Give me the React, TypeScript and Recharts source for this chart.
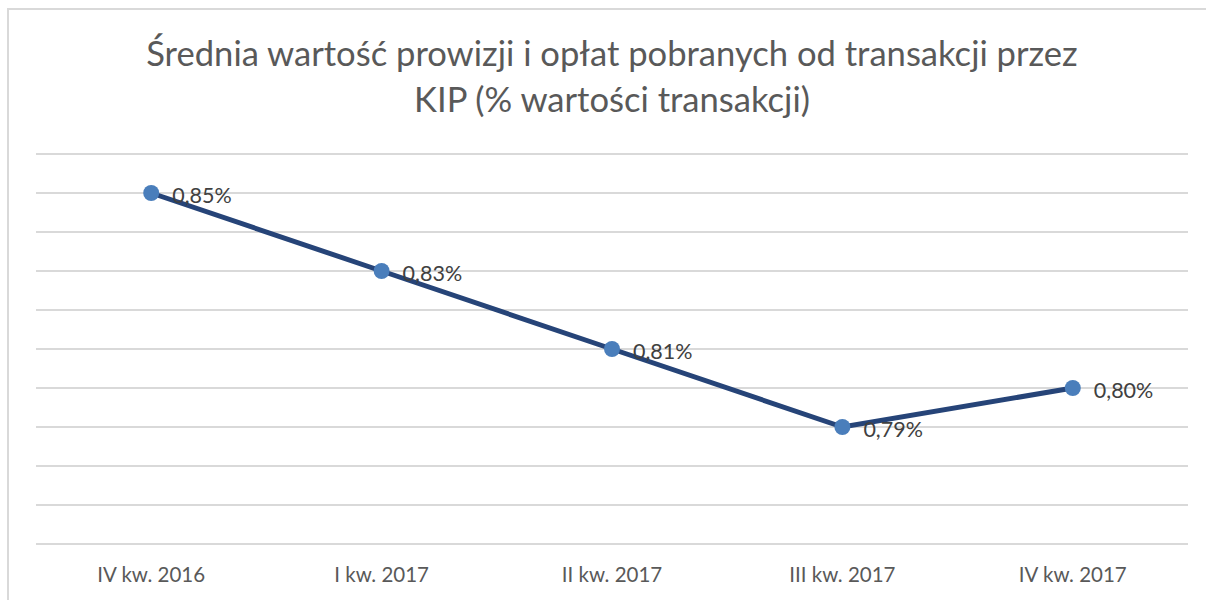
import React from "react";
import {
  LineChart,
  Line,
  XAxis,
  YAxis,
  CartesianGrid,
  LabelList,
} from "recharts";

const quarters = ["IV kw. 2016", "I kw. 2017", "II kw. 2017", "III kw. 2017", "IV kw. 2017"];
const feeShare = [0.85, 0.83, 0.81, 0.79, 0.8];
const yTicks = [0.76, 0.77, 0.78, 0.79, 0.8, 0.81, 0.82, 0.83, 0.84, 0.85, 0.86];

const data = quarters.map((q, i) => ({ quarter: q, value: feeShare[i] }));

const FONT = "Lato, 'Open Sans', sans-serif";

const fmt = (v: number) => v.toFixed(2).replace(".", ",") + "%";

const ValueLabel = (props: any) => {
  const { x, y, value } = props;
  return (
    <text
      x={x + 21}
      y={y + 2}
      dominantBaseline="central"
      fontSize={21.5}
      fontFamily={FONT}
      fill="#404040"
    >
      {fmt(value)}
    </text>
  );
};

export default function App() {
  return (
    <div
      style={{
        position: "fixed",
        left: 0,
        top: 0,
        width: 1206,
        height: 600,
        background: "#fff",
        overflow: "hidden",
      }}
    >
      <div
        style={{
          position: "absolute",
          left: 7,
          top: 8,
          width: 1300,
          height: 700,
          borderLeft: "2px solid #d9d9d9",
          borderTop: "2px solid #d9d9d9",
        }}
      />
      <div
        style={{
          position: "absolute",
          left: 0,
          top: 30,
          width: 1224,
          textAlign: "center",
          fontFamily: FONT,
          fontSize: 34.6,
          lineHeight: "46px",
          color: "#595959",
        }}
      >
        Średnia wartość prowizji i opłat pobranych od transakcji przez
        <br />
        KIP (% wartości transakcji)
      </div>
      <div style={{ position: "absolute", left: 0, top: 0 }}>
        <LineChart
          width={1206}
          height={600}
          data={data}
          margin={{ top: 154, right: 18, bottom: 26, left: 36 }}
        >
          <CartesianGrid horizontal vertical={false} stroke="#d9d9d9" strokeWidth={2} />
          <XAxis
            dataKey="quarter"
            scale="band"
            axisLine={{ stroke: "#d9d9d9", strokeWidth: 2 }}
            tickLine={false}
            tick={{ fontSize: 20.5, fontFamily: FONT, fill: "#595959" }}
            tickMargin={17}
          />
          <YAxis
            hide
            domain={[0.76, 0.86]}
            ticks={yTicks}
            type="number"
            allowDataOverflow
          />
          <Line
            dataKey="value"
            stroke="#264478"
            strokeWidth={5}
            dot={{ r: 8, fill: "#4a7ebb", stroke: "none" }}
            activeDot={false}
            isAnimationActive={false}
          >
            <LabelList dataKey="value" content={<ValueLabel />} />
          </Line>
        </LineChart>
      </div>
    </div>
  );
}
